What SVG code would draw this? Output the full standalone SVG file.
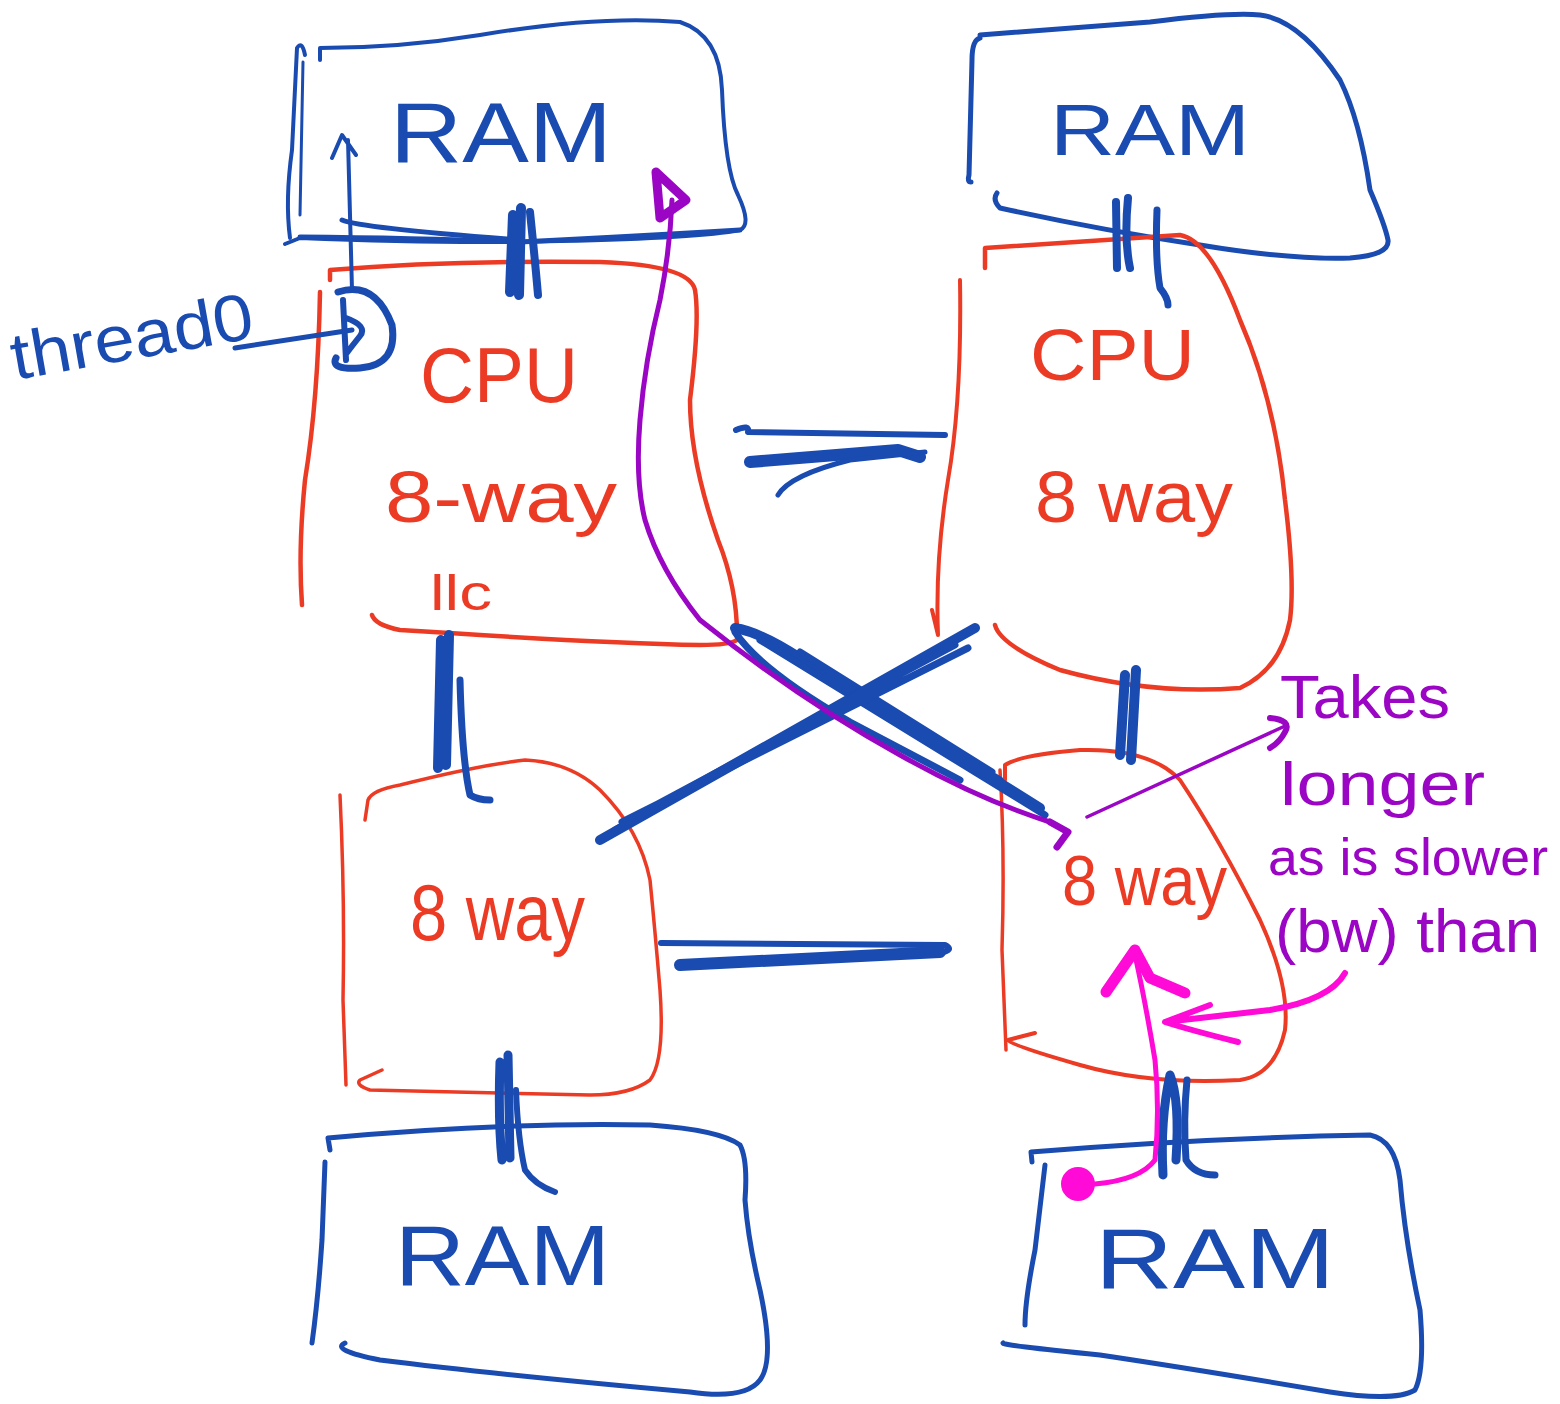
<svg xmlns="http://www.w3.org/2000/svg" width="1560" height="1404" viewBox="0 0 1560 1404">
<style>
.b{fill:none;stroke:#1a4bb0;stroke-linecap:round;stroke-linejoin:round}
.r{fill:none;stroke:#ec3b25;stroke-linecap:round;stroke-linejoin:round}
.p{fill:none;stroke:#9a06c4;stroke-linecap:round;stroke-linejoin:round}
.m{fill:none;stroke:#ff0ad6;stroke-linecap:round;stroke-linejoin:round}
.tb{fill:#1a4bb0;font-family:"Liberation Sans",Arial,sans-serif}
.tr{fill:#ec3b25;font-family:"Liberation Sans",Arial,sans-serif}
.tp{fill:#9a06c4;font-family:"Liberation Sans",Arial,sans-serif}
</style>
<rect width="1560" height="1404" fill="#ffffff"/>

<g id="ram-top-left">
<path class="b" stroke-width="4" d="M 320 60 L 320 48 Q 400 48 480 35 Q 600 15 680 22 Q 720 35 722 90 Q 725 170 738 195 Q 752 225 740 230 Q 700 238 560 241 Q 450 244 300 238 L 285 244"/>
<path class="b" stroke-width="5" d="M 740 230 Q 640 236 520 242 Q 420 238 300 237"/>
<path class="b" stroke-width="4" d="M 290 238 Q 285 200 292 150 L 297 48 Q 302 40 305 55"/>
<path class="b" stroke-width="3" d="M 303 62 L 300 215"/>
<path class="b" stroke-width="5" d="M 342 220 Q 360 228 520 240"/>
<text class="tb" x="390" y="162" font-size="85" textLength="222" lengthAdjust="spacingAndGlyphs">RAM</text>
</g>

<g id="ram-top-right">
<path class="b" stroke-width="5" d="M 980 38 Q 972 40 972 60 L 969 175 Q 967 182 971 182"/>
<path class="b" stroke-width="5" d="M 980 35 Q 1050 30 1150 22 Q 1230 12 1260 15 Q 1300 20 1340 80 Q 1360 120 1370 190 Q 1385 225 1388 240 Q 1390 255 1350 258 Q 1290 260 1200 245 Q 1100 230 1000 208 Q 992 200 997 193"/>
<text class="tb" x="1050" y="155" font-size="72" textLength="200" lengthAdjust="spacingAndGlyphs">RAM</text>
</g>

<g id="cpu-left">
<path class="r" stroke-width="4.5" d="M 330 280 L 330 270 Q 450 260 600 262 Q 690 265 695 290 Q 700 320 690 400 Q 690 460 718 540 Q 738 590 737 640 Q 730 645 700 645 Q 600 643 400 630 Q 375 625 372 615"/>
<path class="r" stroke-width="4.5" d="M 320 292 Q 318 400 305 480 Q 298 550 302 605"/>
<text class="tr" x="420" y="402" font-size="78" textLength="158" lengthAdjust="spacingAndGlyphs">CPU</text>
<text class="tr" x="385" y="522" font-size="72" textLength="232" lengthAdjust="spacingAndGlyphs">8-way</text>
<text class="tr" x="430" y="610" font-size="50" textLength="62" lengthAdjust="spacingAndGlyphs">llc</text>
</g>

<g id="cpu-right">
<path class="r" stroke-width="4.5" d="M 985 268 L 985 248 Q 1100 240 1180 235 Q 1210 240 1240 320 Q 1275 400 1285 500 Q 1295 580 1290 620 Q 1280 670 1240 688 Q 1150 695 1060 670 Q 1000 645 995 625"/>
<path class="r" stroke-width="4" d="M 960 280 Q 962 400 948 480 Q 935 560 938 635 L 932 610"/>
<text class="tr" x="1030" y="380" font-size="72" textLength="165" lengthAdjust="spacingAndGlyphs">CPU</text>
<text class="tr" x="1035" y="522" font-size="72" textLength="198" lengthAdjust="spacingAndGlyphs">8 way</text>
</g>

<g id="cache-left">
<path class="r" stroke-width="3.5" d="M 365 820 L 368 800 Q 372 790 400 785 Q 480 765 525 760 Q 570 762 600 790 Q 640 830 650 880 Q 655 930 660 990 Q 665 1060 650 1080 Q 630 1095 590 1095 L 370 1090 Q 355 1085 360 1080 L 382 1070"/>
<path class="r" stroke-width="3.5" d="M 340 795 Q 345 900 343 1000 L 346 1085"/>
<text class="tr" x="410" y="940" font-size="80" textLength="175" lengthAdjust="spacingAndGlyphs">8 way</text>
</g>

<g id="cache-right">
<path class="r" stroke-width="4" d="M 1005 780 L 1005 765 Q 1020 755 1080 750 Q 1150 748 1180 780 Q 1220 840 1260 920 Q 1290 985 1285 1030 Q 1275 1075 1240 1080 Q 1150 1085 1080 1065 Q 1010 1045 1008 1040 L 1035 1033"/>
<path class="r" stroke-width="3.5" d="M 1000 770 Q 1005 850 1002 950 L 1006 1050"/>
<text class="tr" x="1062" y="905" font-size="70" textLength="165" lengthAdjust="spacingAndGlyphs">8 way</text>
</g>

<g id="ram-bottom-left">
<path class="b" stroke-width="5" d="M 330 1150 L 328 1138 Q 500 1122 650 1125 Q 720 1130 740 1145 Q 748 1160 745 1200 Q 748 1240 760 1290 Q 775 1360 760 1380 Q 745 1400 690 1392 Q 500 1375 380 1360 Q 330 1350 345 1343"/>
<path class="b" stroke-width="5" d="M 325 1162 L 322 1240 Q 318 1300 312 1343"/>
<text class="tb" x="395" y="1285" font-size="85" textLength="215" lengthAdjust="spacingAndGlyphs">RAM</text>
</g>

<g id="ram-bottom-right">
<path class="b" stroke-width="5" d="M 1032 1162 L 1031 1152 Q 1200 1138 1370 1135 Q 1395 1140 1400 1180 Q 1405 1240 1420 1310 Q 1425 1370 1415 1390 Q 1395 1402 1330 1392 Q 1200 1370 1100 1355 Q 1000 1345 1003 1343"/>
<path class="b" stroke-width="5" d="M 1045 1165 L 1035 1250 Q 1025 1300 1025 1325"/>
<text class="tb" x="1095" y="1288" font-size="85" textLength="240" lengthAdjust="spacingAndGlyphs">RAM</text>
</g>

<g id="thread0">
<text class="tb" x="15" y="380" font-size="66" textLength="245" lengthAdjust="spacingAndGlyphs" transform="rotate(-10 15 380)">thread0</text>
<path class="b" stroke-width="7" d="M 338 292 Q 375 280 392 325 Q 398 365 360 368 Q 330 370 336 358"/>
<path class="b" stroke-width="6" d="M 343 300 L 346 360 M 346 318 Q 368 326 360 336 Q 352 346 346 354"/>
</g>

<g id="note">
<text class="tp" x="1280" y="718" font-size="62" textLength="170" lengthAdjust="spacingAndGlyphs">Takes</text>
<text class="tp" x="1280" y="805" font-size="62" textLength="205" lengthAdjust="spacingAndGlyphs">longer</text>
<text class="tp" x="1268" y="875" font-size="52" textLength="280" lengthAdjust="spacingAndGlyphs">as is slower</text>
<text class="tp" x="1275" y="952" font-size="62" textLength="265" lengthAdjust="spacingAndGlyphs">(bw) than</text>
</g>

<g id="connectors">
<path class="b" stroke-width="10" d="M 513 215 L 510 292 M 521 208 L 519 295"/>
<path class="b" stroke-width="8" d="M 530 212 Q 535 260 538 295"/>
<path class="b" stroke-width="8" d="M 1116 202 L 1117 268 M 1128 198 Q 1124 240 1130 268"/>
<path class="b" stroke-width="7" d="M 1157 210 Q 1155 260 1160 288 Q 1168 298 1168 305"/>
<path class="b" stroke-width="10" d="M 441 640 L 438 768 M 449 635 L 446 765"/>
<path class="b" stroke-width="7" d="M 460 680 Q 462 760 470 795 Q 478 800 490 800"/>
<path class="b" stroke-width="10" d="M 1125 675 L 1120 755 M 1136 670 L 1131 760"/>
<path class="b" stroke-width="9" d="M 500 1062 Q 498 1120 502 1160 M 508 1055 L 510 1158"/>
<path class="b" stroke-width="6" d="M 516 1090 Q 518 1140 525 1170 Q 535 1185 555 1192"/>
<path class="b" stroke-width="9" d="M 1163 1175 Q 1160 1120 1170 1075 Q 1180 1100 1176 1160"/>
<path class="b" stroke-width="7" d="M 1187 1080 Q 1183 1120 1186 1160 Q 1195 1175 1215 1175"/>
<path class="b" stroke-width="6" d="M 736 430 Q 750 424 748 432 L 945 435"/>
<path class="b" stroke-width="12" d="M 750 462 L 898 450 L 920 457"/>
<path class="b" stroke-width="5" d="M 778 495 Q 790 475 850 460 L 925 452"/>
<path class="b" stroke-width="6" d="M 661 943 L 945 945 Q 955 950 940 953"/>
<path class="b" stroke-width="12" d="M 680 965 L 940 952"/>
<path class="b" stroke-width="10" d="M 735 628 Q 760 632 800 658 L 1040 808"/>
<path class="b" stroke-width="7" d="M 735 632 Q 760 670 850 722 L 960 780 M 760 640 L 1045 815 M 800 652 L 992 772 M 830 675 L 1000 780"/>
<path class="b" stroke-width="10" d="M 975 628 L 600 840"/>
<path class="b" stroke-width="7" d="M 968 648 L 622 822 M 955 645 L 650 808 M 900 670 L 615 830"/>
<path class="b" stroke-width="5" d="M 235 348 L 352 330"/>
<path class="b" stroke-width="4" d="M 352 290 L 348 140 M 332 158 L 342 135 L 356 155"/>
<path class="p" stroke-width="5" d="M 1050 822 Q 980 800 900 755 Q 800 700 700 620 Q 660 570 645 520 Q 635 480 640 420 Q 645 360 660 300 Q 670 250 672 200"/>
<path class="p" stroke-width="7" d="M 1050 822 L 1068 832 L 1057 847"/>
<path class="p" stroke-width="9" fill="#9a06c4" d="M 656 172 L 686 200 L 660 218 Z"/>
<path class="p" stroke-width="3.5" d="M 1087 817 L 1285 726"/>
<path class="p" stroke-width="6" d="M 1270 718 Q 1292 720 1285 732 Q 1280 742 1270 748"/>
<circle cx="1078" cy="1184" r="17" fill="#ff0ad6"/>
<path class="m" stroke-width="5" d="M 1095 1184 Q 1140 1180 1155 1160 Q 1160 1110 1155 1060 Q 1145 1000 1135 955"/>
<path class="m" stroke-width="11" d="M 1106 992 L 1135 950 L 1150 978 L 1185 993"/>
<path class="m" stroke-width="6" d="M 1345 973 Q 1330 1000 1270 1010 Q 1200 1018 1165 1022 L 1210 1005 M 1165 1022 Q 1190 1030 1238 1042"/>
</g>
</svg>
